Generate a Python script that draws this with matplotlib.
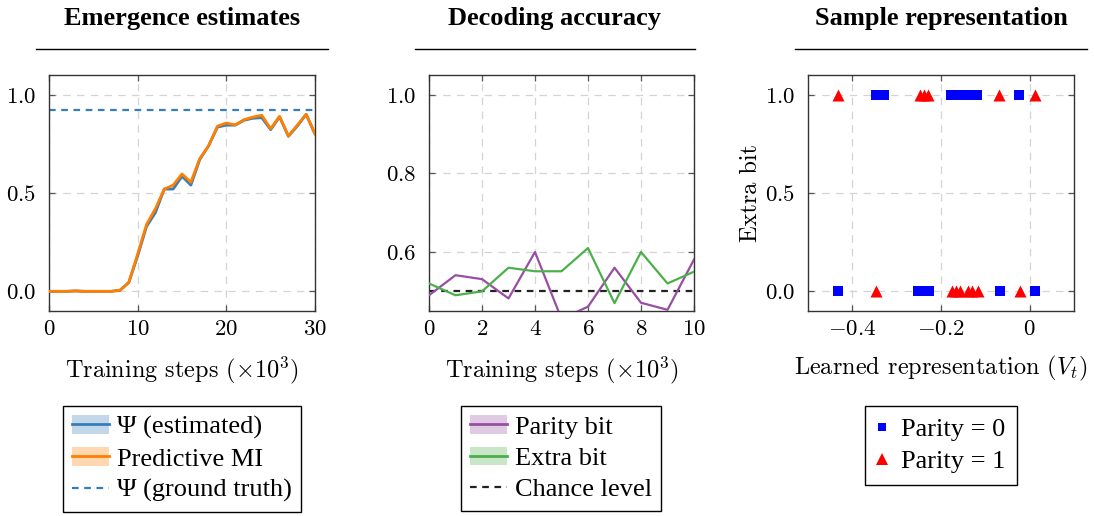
import matplotlib
matplotlib.use('Agg')
import matplotlib.pyplot as plt
from matplotlib.lines import Line2D
from matplotlib.patches import Patch

plt.rcParams['font.family'] = ['Liberation Serif', 'DejaVu Serif']
plt.rcParams['mathtext.fontset'] = 'cm'
plt.rcParams['font.size'] = 14

# --- panel 1: emergence estimates
steps_emerge = list(range(31))
psi_estimated = [0.0, 0.0, 0.0, 0.002, 0.0, 0.0, 0.0, 0.0, 0.005, 0.045,
                 0.18, 0.33, 0.40, 0.52, 0.52, 0.585, 0.54, 0.67, 0.74, 0.835,
                 0.845, 0.845, 0.87, 0.88, 0.883, 0.822, 0.887, 0.788, 0.84, 0.90,
                 0.80]
predictive_mi = [0.0, 0.0, 0.0, 0.002, 0.0, 0.0, 0.0, 0.0, 0.005, 0.045,
                 0.19, 0.34, 0.42, 0.52, 0.54, 0.597, 0.555, 0.675, 0.74, 0.84,
                 0.856, 0.846, 0.873, 0.886, 0.895, 0.827, 0.89, 0.79, 0.845, 0.90,
                 0.80]
psi_ground_truth = 0.92

# --- panel 2: decoding accuracy
steps_decode = list(range(11))
parity_acc = [0.49, 0.541, 0.531, 0.482, 0.60, 0.43, 0.461, 0.56, 0.471, 0.453, 0.581]
extra_acc = [0.52, 0.49, 0.50, 0.56, 0.551, 0.551, 0.61, 0.47, 0.60, 0.52, 0.55]
chance_level = 0.5

# --- panel 3: sample representation
parity0_v = [-0.347, -0.328, -0.178, -0.165, -0.152, -0.140, -0.128, -0.118, -0.023,
             -0.432, -0.251, -0.238, -0.226, -0.067, 0.013]
parity0_extra = [1, 1, 1, 1, 1, 1, 1, 1, 1,
                 0, 0, 0, 0, 0, 0]
parity1_v = [-0.432, -0.247, -0.238, -0.229, -0.070, 0.013,
             -0.346, -0.175, -0.166, -0.158, -0.140, -0.130, -0.117, -0.022]
parity1_extra = [1, 1, 1, 1, 1, 1,
                 0, 0, 0, 0, 0, 0, 0, 0]

titles = ['Emergence estimates', 'Decoding accuracy', 'Sample representation']
steps_ticks_1 = [0, 10, 20, 30]
steps_ticks_2 = [0, 2, 4, 6, 8, 10]
acc_ticks = [0.6, 0.8, 1.0]
unit_ticks = [0.0, 0.5, 1.0]
v_ticks = [-0.4, -0.2, 0.0]
v_tick_labels = ['-0.4', '-0.2', '0']

BLUE = '#377eb8'
ORANGE = '#ff7f00'
PURPLE = '#984ea3'
GREEN = '#4daf4a'
CM = 'cmr10'
LABEL_FS = 17.5
TICK_FS = 16.5

W, H = 1094, 516
fig = plt.figure(figsize=(W / 100, H / 100), dpi=100)


def px_axes(left, right, top, bottom):
    return fig.add_axes([left / W, 1 - bottom / H, (right - left) / W, (bottom - top) / H])


def math_labels(values, fmt):
    return ['$' + fmt.format(v) + '$' for v in values]


def style(ax):
    ax.grid(True, color='#d4d4d4', linestyle=(0, (6, 5)), linewidth=0.9)
    ax.set_axisbelow(True)
    ax.tick_params(direction='in', top=True, right=True, length=4, width=0.9,
                   color='#555555', labelsize=TICK_FS)
    ax.tick_params(axis='x', pad=6)
    ax.tick_params(axis='y', pad=9)
    for s in ax.spines.values():
        s.set_color('#333333')
        s.set_linewidth(1.0)


ax1 = px_axes(49, 315, 75, 311)
ax2 = px_axes(429, 694, 75, 311)
ax3 = px_axes(808, 1074, 75, 311)

xlabel_steps = r'Training steps ($\times 10^3$)'

# panel 1
ax1.plot(steps_emerge, psi_estimated, color=BLUE, lw=2.0, zorder=3)
ax1.plot(steps_emerge, predictive_mi, color=ORANGE, lw=2.0, zorder=4)
ax1.axhline(psi_ground_truth, color=BLUE, lw=1.6, ls=(0, (3, 2.5)), zorder=2)
ax1.set_xlim(0, 30)
ax1.set_ylim(-0.1, 1.1)
ax1.set_xticks(steps_ticks_1)
ax1.set_xticklabels(math_labels(steps_ticks_1, '{:d}'))
ax1.set_yticks(unit_ticks)
ax1.set_yticklabels(math_labels(unit_ticks, '{:.1f}'))
ax1.set_xlabel(xlabel_steps, fontsize=LABEL_FS, family=CM, labelpad=10)
style(ax1)

# panel 2
ax2.plot(steps_decode, parity_acc, color=PURPLE, lw=1.6, zorder=3)
ax2.plot(steps_decode, extra_acc, color=GREEN, lw=1.6, zorder=3)
ax2.axhline(chance_level, color='#222222', lw=1.6, ls=(0, (3, 2.5)), zorder=2)
ax2.set_xlim(0, 10)
ax2.set_ylim(0.45, 1.05)
ax2.set_xticks(steps_ticks_2)
ax2.set_xticklabels(math_labels(steps_ticks_2, '{:d}'))
ax2.set_yticks(acc_ticks)
ax2.set_yticklabels(math_labels(acc_ticks, '{:.1f}'))
ax2.set_xlabel(xlabel_steps, fontsize=LABEL_FS, family=CM, labelpad=10)
style(ax2)

# panel 3
ax3.scatter(parity0_v, parity0_extra, marker='s', s=45, color='#0000ff', linewidths=0, zorder=3)
ax3.scatter(parity1_v, parity1_extra, marker='^', s=75, color='#ff0000', linewidths=0, zorder=3)
ax3.set_xlim(-0.5, 0.1)
ax3.set_ylim(-0.1, 1.1)
ax3.set_xticks(v_ticks)
ax3.set_xticklabels(['$' + t + '$' for t in v_tick_labels])
ax3.set_yticks(unit_ticks)
ax3.set_yticklabels(math_labels(unit_ticks, '{:.1f}'))
ax3.set_xlabel(r'Learned representation ($V_t$)', fontsize=LABEL_FS, family=CM, labelpad=10)
ax3.set_ylabel('Extra bit', fontsize=LABEL_FS, family=CM, labelpad=2)
style(ax3)

# titles with rules underneath
centers = [182, 555, 941]
rule_halfwidths = [146, 140, 146]
for title, cx, hw in zip(titles, centers, rule_halfwidths):
    fig.text(cx / W, 1 - 19 / H, title, ha='center', va='center',
             fontsize=19, fontweight='bold')
    fig.add_artist(Line2D([(cx - hw) / W, (cx + hw) / W], [1 - 49 / H] * 2,
                          color='black', lw=1.0, transform=fig.transFigure))

# legends
legend_kw = dict(loc='upper center', frameon=True, fancybox=False, edgecolor='black',
                 framealpha=1, fontsize=19, borderpad=0.35, labelspacing=0.3,
                 handlelength=1.4, handletextpad=0.3, borderaxespad=0)
legend_top = 1 - 406 / H


def band_handle(color):
    return (Patch(facecolor=color, alpha=0.3, edgecolor='none'),
            Line2D([], [], color=color, lw=2.0))


h1 = [band_handle(BLUE), band_handle(ORANGE),
      Line2D([], [], color=BLUE, lw=1.6, ls=(0, (3, 2.5)))]
leg1 = fig.legend(h1, ['\u03a8 (estimated)', 'Predictive MI', '\u03a8 (ground truth)'],
                  bbox_to_anchor=(182 / W, legend_top), **legend_kw)
leg1.get_frame().set_linewidth(1.0)

h2 = [band_handle(PURPLE), band_handle(GREEN),
      Line2D([], [], color='#222222', lw=1.6, ls=(0, (3, 2.5)))]
leg2 = fig.legend(h2, ['Parity bit', 'Extra bit', 'Chance level'],
                  bbox_to_anchor=(561 / W, legend_top), **legend_kw)
leg2.get_frame().set_linewidth(1.0)

h3 = [Line2D([], [], marker='s', ls='none', color='#0000ff', markersize=6, markeredgewidth=0),
      Line2D([], [], marker='^', ls='none', color='#ff0000', markersize=8, markeredgewidth=0)]
leg3 = fig.legend(h3, ['Parity = 0', 'Parity = 1'],
                  bbox_to_anchor=(941 / W, legend_top),
                  **dict(legend_kw, handlelength=0.4, handletextpad=0.5, borderpad=0.45))
leg3.get_frame().set_linewidth(1.0)

fig.savefig('out.png', dpi=100)
